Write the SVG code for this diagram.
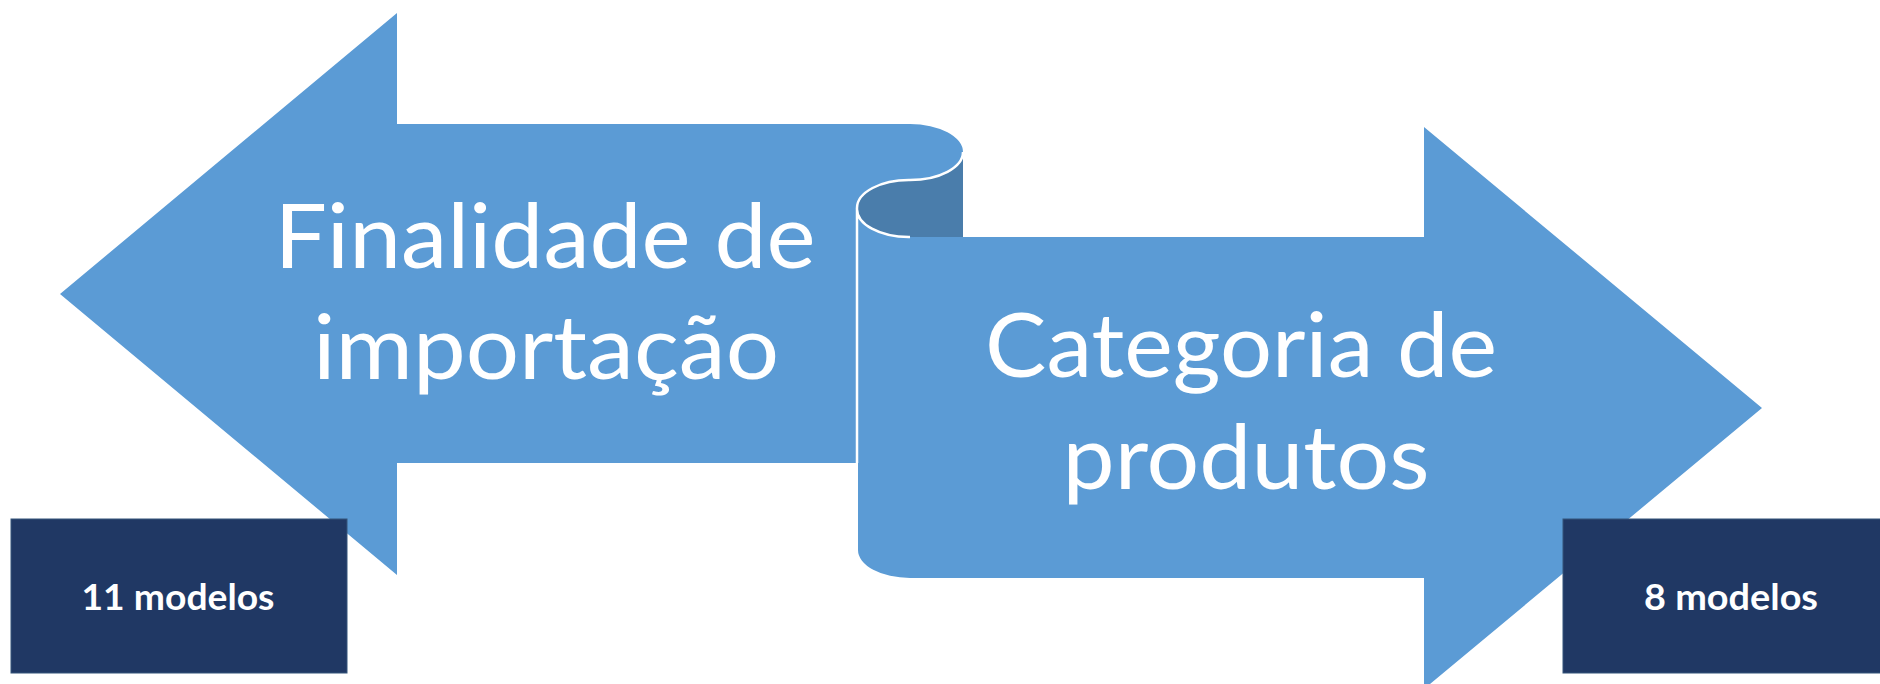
<svg xmlns="http://www.w3.org/2000/svg" width="1880" height="684" viewBox="0 0 1880 684">
  <style>
    .arrow { fill: #5B9BD5; }
    .curl { fill: #4A7DAB; }
    .edge { fill: none; stroke: #FFFFFF; stroke-width: 2.5; }
    .big { font-family: Lato, "Liberation Sans", sans-serif; font-size: 89px; fill: #FFFFFF; text-anchor: middle; }
    .box { fill: #203864; stroke: #35557A; stroke-width: 1; }
    .small { font-family: Lato, "Liberation Sans", sans-serif; font-size: 37px; font-weight: bold; fill: #FFFFFF; text-anchor: middle; }
  </style>
  <rect x="0" y="0" width="1880" height="684" fill="#FFFFFF"/>
  <g id="arrow-left">
    <path class="arrow" d="M60,294 L397,13 L397,124 L910,124 A53,28 0 0 1 963,152 A53,28 0 0 1 910,180 L910,240 L858,240 L858,463 L397,463 L397,575 Z"/>
    <text class="big" x="545" y="268" textLength="541" lengthAdjust="spacingAndGlyphs">Finalidade de</text>
    <text class="big" x="546" y="379" textLength="466" lengthAdjust="spacingAndGlyphs">importação</text>
  </g>
  <g id="arrow-right">
    <path class="curl" d="M858,208 A52,28 0 0 1 910,180 A53,28 0 0 0 963,152 L963,237 L910,237 A52,28 0 0 1 858,208 Z"/>
    <path class="arrow" d="M858,208 L858,550 A52,28 0 0 0 910,578 L1424,578 L1424,689 L1762,408 L1424,127 L1424,237 L910,237 A52,28 0 0 1 858,208 Z"/>
    <path class="edge" d="M857,463 L857,208 A52,28 0 0 1 910,180 A53,28 0 0 0 963,152 M857,208 A52,28 0 0 0 910,237"/>
    <text class="big" x="1241" y="377" textLength="512" lengthAdjust="spacingAndGlyphs">Categoria de</text>
    <text class="big" x="1246" y="489" textLength="367" lengthAdjust="spacingAndGlyphs">produtos</text>
  </g>
  <g id="box-left">
    <rect class="box" x="11" y="519" width="336" height="154"/>
    <text class="small" x="178" y="610" textLength="193" lengthAdjust="spacingAndGlyphs">11 modelos</text>
  </g>
  <g id="box-right">
    <rect class="box" x="1563" y="519" width="330" height="154"/>
    <text class="small" x="1731" y="610" textLength="174" lengthAdjust="spacingAndGlyphs">8 modelos</text>
  </g>
  <g id="connectors"></g>
</svg>
